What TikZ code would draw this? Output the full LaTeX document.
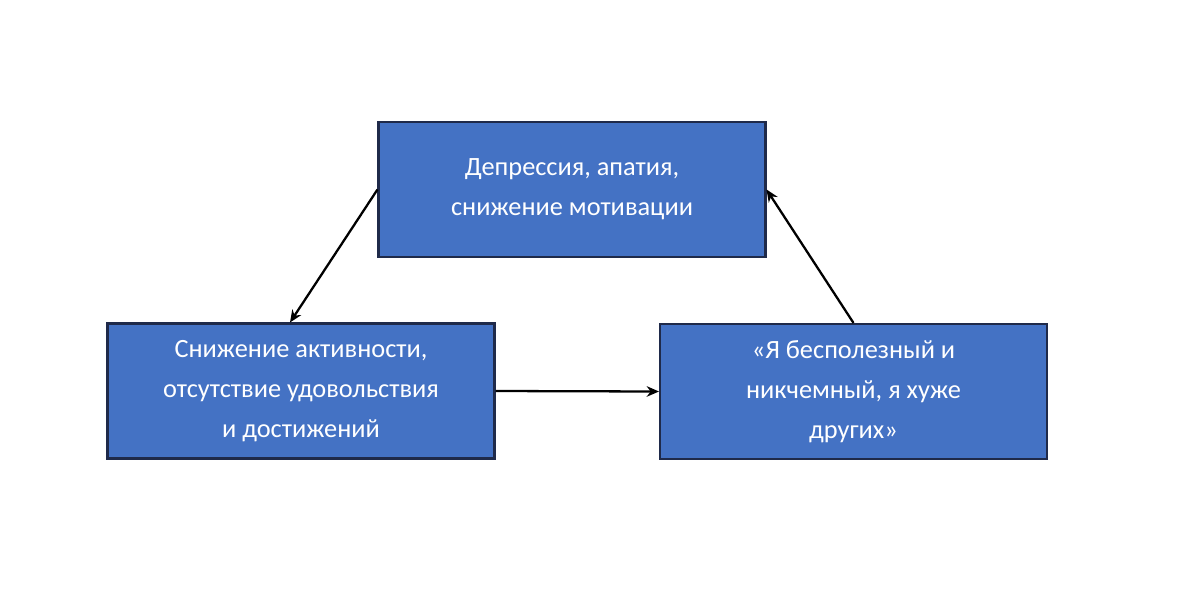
\documentclass[tikz,border=0pt]{standalone}
\usepackage{fontspec}
\setmainfont{Carlito}
\usetikzlibrary{arrows.meta}
\definecolor{boxfill}{HTML}{4472C4}
\definecolor{boxline}{HTML}{1F2A4A}
\begin{document}
\begin{tikzpicture}[x=0.02cm,y=-0.02cm,
  box/.style={draw=boxline,line width=1.2pt,fill=boxfill,text=white,align=center,
    minimum width=7.74cm,minimum height=2.7cm,inner sep=0pt,
    font=\fontsize{15}{22.7}\selectfont},
  arr/.style={-{Stealth[length=7pt,width=6pt]},line width=1.3pt,black}]
\useasboundingbox (0,0) rectangle (1200,606);
\node[box] (top) at (572,189.5) {Депрессия, апатия,\\снижение мотивации};
\node[box] (left) at (301,391) {Снижение активности,\\отсутствие удовольствия\\и достижений};
\node[box] (right) at (853.5,391.5) {«Я бесполезный и\\никчемный, я хуже\\других»};
\draw[arr] (top.west) -- ([xshift=-0.22cm]left.north);
\draw[arr] (left.east) -- (right.west);
\draw[arr] (right.north) -- (top.east);
\end{tikzpicture}
\end{document}
